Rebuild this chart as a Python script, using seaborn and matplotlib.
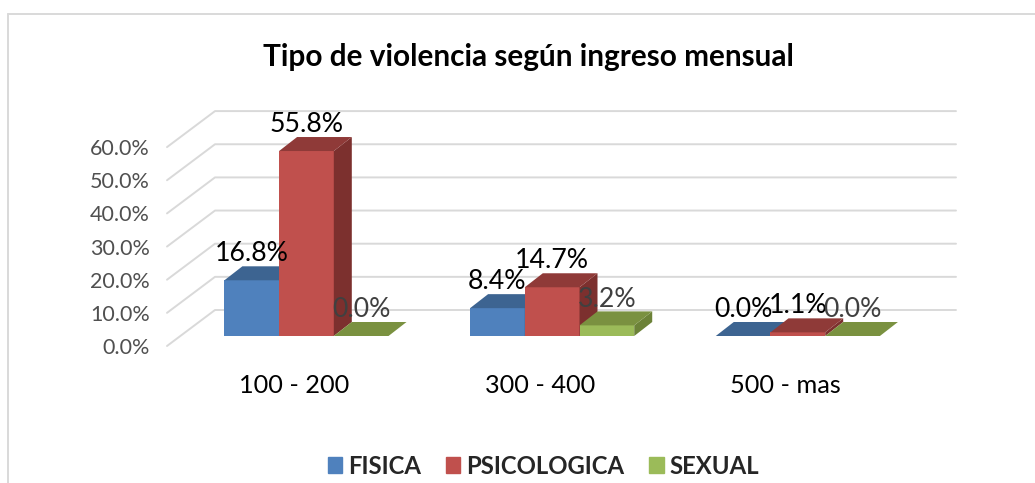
import pandas as pd
import matplotlib.pyplot as plt
import seaborn as sns
from matplotlib.lines import Line2D
from matplotlib.patches import Polygon, Rectangle
from matplotlib.transforms import Affine2D

# Values
categorias = ['100 - 200', '300 - 400', '500 - mas']
fisica = [16.8, 8.4, 0.0]
psicologica = [55.8, 14.7, 1.1]
sexual = [0.0, 3.2, 0.0]

series = ['FISICA', 'PSICOLOGICA', 'SEXUAL']
colores = ['#4F81BD', '#C0504D', '#9BBB59']
colores_top = ['#3D6491', '#8F3A38', '#7A9140']
colores_lado = ['#335579', '#7C302E', '#6C8238']
colores_label = ['black', 'black', '#404040']
y_ticks = [0, 10, 20, 30, 40, 50, 60]

W, H = 1035, 483
PX_X = 245.7   # pixels for one category
PX_Y = 3.315   # pixels for one percent

sns.set_theme(style='white')
plt.rcParams['font.family'] = ['Lato', 'DejaVu Sans']

df = pd.DataFrame({'cat': categorias * 3,
                   'serie': [s for s in series for _ in categorias],
                   'valor': fisica + psicologica + sexual})

fig = plt.figure(figsize=(W / 100, H / 100), dpi=100)
ax = fig.add_axes([183.6 / W, (H - 336) / H, 737.1 / W, 60 * PX_Y / H])

sns.barplot(data=df, x='cat', y='valor', hue='serie', hue_order=series, palette=colores,
            saturation=1, width=0.668, gap=0, dodge=True, linewidth=0, ax=ax)
ax.set_xlim(-0.5, 2.5)
ax.set_ylim(0, 60)
ax.set_xlabel('')
ax.set_ylabel('')
sns.despine(ax=ax, left=True, bottom=True, top=True, right=True)

# back wall and side wall gridlines
dx = 18 / PX_X
dy = 14 / PX_Y
left_front = -0.5 - 16.6 / PX_X
left_back = -0.5 + 31.4 / PX_X
right_back = -0.5 + 772.4 / PX_X
y_front = -10 / PX_Y
y_back = 26 / PX_Y
for t in y_ticks:
    ax.plot([left_front, left_back, right_back], [t + y_front, t + y_back, t + y_back],
            color='#D9D9D9', lw=1.4, clip_on=False, zorder=1)

# fake 3D faces on each bar
for i, cont in enumerate(ax.containers):
    z = 3 + i
    for bar in cont:
        x0, w, h = bar.get_x(), bar.get_width(), bar.get_height()
        bar.set_zorder(z)
        ax.add_patch(Polygon([(x0 + w, 0), (x0 + w + dx, dy), (x0 + w + dx, h + dy), (x0 + w, h)],
                             facecolor=colores_lado[i], edgecolor='none', zorder=z, clip_on=False))
        ax.add_patch(Polygon([(x0, h), (x0 + dx, h + dy), (x0 + w + dx, h + dy), (x0 + w, h)],
                             facecolor=colores_top[i], edgecolor='none', zorder=z, clip_on=False))
    labels = ax.bar_label(cont, fmt='%.1f%%', padding=10, fontsize=19.2, color=colores_label[i])
    for lab in labels:
        lab.set_zorder(10)
        lab.set_clip_on(False)

# ticks, moved to line up with the floor front edge
ax.set_yticks(y_ticks)
ax.set_yticklabels([f'{t:.1f}%' for t in y_ticks], fontsize=15.5, color='#505050')
ax.set_xticks(range(3))
ax.set_xticklabels(categorias, fontsize=18.2, color='black')
ax.tick_params(axis='both', length=0)
ax.tick_params(axis='x', pad=27.5)
ax.tick_params(axis='y', pad=24.5)
for lab in ax.get_yticklabels():
    lab.set_transform(lab.get_transform() + Affine2D().translate(0, -10))
for lab in ax.get_xticklabels():
    lab.set_transform(lab.get_transform() + Affine2D().translate(-12.5, 0))

fig.text(528 / W, 1 - 57 / H, 'Tipo de violencia según ingreso mensual', fontsize=21.4, fontweight='bold',
         color='black', ha='center', va='center')

handles = [Rectangle((0, 0), 1, 1, color=c) for c in colores]
ax.get_legend().remove()
fig.legend(handles, series, loc='center', bbox_to_anchor=(543.5 / W, 1 - 466 / H), ncol=3, frameon=False,
           handlelength=0.6, handleheight=0.65, handletextpad=0.25, columnspacing=1.05,
           prop={'size': 17.2, 'weight': 'bold'})

# chart border, only top and left show in the crop
for xs, ys in [([8, W], [14, 14]), ([8, 8], [14, H])]:
    fig.add_artist(Line2D([x / W for x in xs], [1 - y / H for y in ys], color='#D9D9D9', lw=1.4))

plt.savefig('out.png', dpi=100)
